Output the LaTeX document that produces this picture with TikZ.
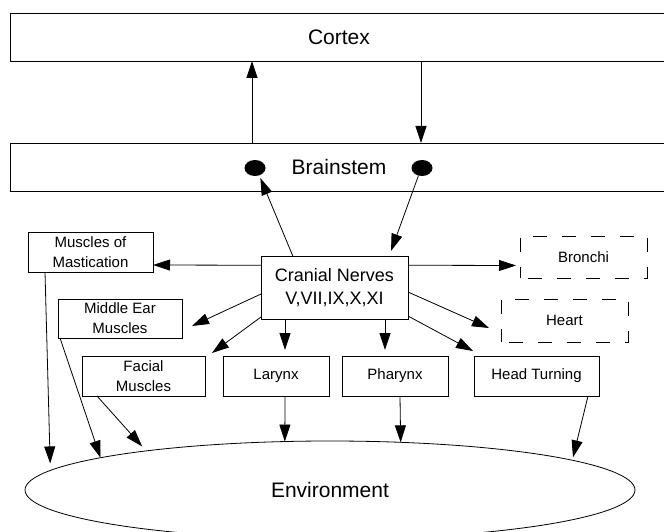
\documentclass[tikz,border=0pt]{standalone}
\usepackage{fontspec}
\setmainfont{Liberation Sans}
\usetikzlibrary{shapes.geometric, arrows.meta}

\tikzset{
  rbox/.style={draw, line width=0.8pt, rectangle, inner sep=0pt, outer sep=0pt, align=center,
    font=\fontsize{15}{20}\selectfont},
  dbox/.style={rbox, dash pattern=on 14pt off 15pt, dash phase=-8pt},
  bigbox/.style={draw, line width=0.8pt, rectangle, inner sep=0pt, outer sep=0pt,
    minimum width=657pt, minimum height=48pt, font=\fontsize{21}{24}\selectfont},
  dot/.style={ellipse, fill=black, inner sep=0pt, outer sep=0pt, minimum width=21pt, minimum height=16pt},
  arr/.style={-{Triangle[length=17pt, width=11pt]}, line width=0.8pt}
}

\begin{document}
\begin{tikzpicture}[x=1pt, y=-1pt]
        \useasboundingbox (0,0) rectangle (664,532);
        \clip (0,0) rectangle (664,532);

        \node[bigbox] at (339, 37)     (cortex)    {Cortex};
        \node[bigbox] at (339, 167)    (brainstem) {Brainstem};
        \node[dot] at (255, 168)       (dotL) {};
        \node[dot] at (422, 168)       (dotR) {};
        \node[rbox, minimum width=147pt, minimum height=62.5pt, font=\fontsize{18}{23}\selectfont]
            at (334.5, 287.75)         (cranial)   {Cranial Nerves\\V,VII,IX,X,XI};
        \node[rbox, minimum width=125pt, minimum height=40pt] at (90.5, 252)   (mast)    {Muscles of\\Mastication};
        \node[dbox, minimum width=127pt, minimum height=42pt] at (583.5, 257)  (bronchi) {Bronchi};
        \node[rbox, minimum width=124pt, minimum height=39pt] at (120, 318.5)  (midear)  {Middle Ear\\Muscles};
        \node[dbox, minimum width=127pt, minimum height=43pt] at (564.5, 320.5) (heart)  {Heart};
        \node[rbox, minimum width=123pt, minimum height=40pt] at (143.5, 376)  (facial)  {Facial\\Muscles};
        \node[rbox, minimum width=106pt, minimum height=40pt] at (276, 376)    (larynx)  {Larynx};
        \node[rbox, minimum width=106pt, minimum height=40pt] at (395, 376)    (pharynx) {Pharynx};
        \node[rbox, minimum width=125pt, minimum height=40pt] at (536.5, 376)  (turning) {Head Turning};
        \node[draw, ellipse, line width=0.8pt, inner sep=0pt, outer sep=0pt, minimum width=610pt,
            minimum height=98pt, font=\fontsize{21}{24}\selectfont] at (330, 490) (env) {Environment};

        \draw[arr] ([xshift=-87pt]brainstem.north) -- ([xshift=-87pt]cortex.south);
        \draw[arr] ([xshift=82pt]cortex.south) -- ([xshift=82pt]brainstem.north);
        \draw[arr, shorten >=3pt] ([xshift=-41.5pt]cranial.north) -- (dotL.-60);
        \draw[arr, shorten >=6pt] (dotR.-115) -- ([xshift=54.5pt]cranial.north);
        \draw[arr] ([yshift=22.5pt]cranial.west) -- ([yshift=-13pt]mast.east);
        \draw[arr, shorten >=4pt] ([yshift=22.5pt]cranial.east) -- ([yshift=-8.5pt]bronchi.west);
        \draw[arr] ([yshift=-4.25pt]cranial.east) -- ([xshift=-12pt, yshift=-7.5pt]heart.west);
        \draw[arr] ([yshift=-28.25pt]cranial.east) -- ([xshift=-1pt, yshift=5pt]turning.north west);
        \draw[arr] ([yshift=-6.25pt]cranial.west) -- ([xshift=10pt, yshift=-7.5pt]midear.east);
        \draw[arr] ([yshift=2pt]cranial.south west) -- ([xshift=7pt, yshift=3pt]facial.north east);
        \draw[arr, shorten >=6pt] ([xshift=-49.5pt]cranial.south) -- ([xshift=9pt]larynx.north);
        \draw[arr, shorten >=6pt] ([xshift=50.5pt]cranial.south) -- ([xshift=-10pt]pharynx.north);

        \draw[arr, shorten >=7pt] ([xshift=17pt]mast.south west) -- (env.176.5);
        \draw[arr] ([xshift=2pt]midear.south west) -- (env.172.8);
        \draw[arr, shorten >=6pt] ([xshift=15pt]facial.south west) -- (env.168.3);
        \draw[arr] ([xshift=9pt]larynx.south) -- (env.133);
        \draw[arr] ([xshift=5pt]pharynx.south) -- (env.34.3);
        \draw[arr, shorten >=3pt] ([xshift=-11pt]turning.south east) -- (env.7.9);
    \end{tikzpicture}
\end{document}
